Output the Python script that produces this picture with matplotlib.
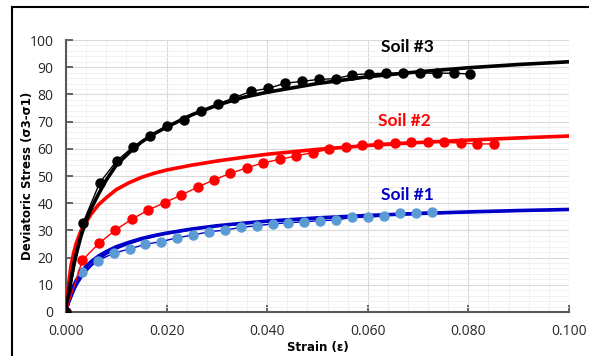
import numpy as np
import matplotlib.pyplot as plt
from matplotlib.lines import Line2D
from matplotlib.ticker import MultipleLocator, FormatStrFormatter

# =========================
# Measured points (strain, deviatoric stress)
# =========================

soil1_step = 0.00316
soil1_stress = [0, 14.8, 18.9, 21.6, 23.2, 24.9, 25.9, 27.3, 28.3, 29.5, 30.1, 31.1,
                31.7, 32.4, 32.8, 33.2, 33.6, 33.8, 34.8, 34.8, 35.3, 36.3, 36.5, 36.8]

soil2_step = 0.00327
soil2_stress = [0, 19.1, 25.2, 30.1, 34.1, 37.5, 40.2, 43.0, 45.9, 48.6, 51.0, 53.0,
                54.9, 56.1, 57.4, 58.6, 59.8, 60.8, 61.4, 61.9, 62.3, 62.5, 62.4,
                62.4, 62.1, 61.8, 61.8]

soil3_step = 0.00335
soil3_stress = [0, 32.6, 47.5, 55.5, 60.8, 64.7, 68.5, 70.6, 73.9, 76.5, 78.8, 81.2,
                82.2, 84.1, 84.8, 85.5, 85.8, 87.2, 87.6, 87.8, 87.8, 87.8, 87.8,
                87.8, 87.5]

# =========================
# Model curves
# =========================

fit_strain = [0, 0.0005, 0.001, 0.0015, 0.002, 0.003, 0.004, 0.005, 0.0065, 0.008,
              0.01, 0.0125, 0.015, 0.0175, 0.02, 0.025, 0.03, 0.035, 0.04, 0.05,
              0.06, 0.07, 0.08, 0.09, 0.1]
fit_soil1 = [0, 4.0, 7.0, 9.5, 11.5, 14.5, 16.8, 18.5, 20.6, 22.2, 24.0, 25.6, 27.0,
             28.1, 29.0, 30.5, 31.7, 32.6, 33.4, 34.6, 35.5, 36.2, 36.8, 37.3, 37.7]
fit_soil1_b = [0, 3.0, 5.5, 7.6, 9.5, 12.5, 15.0, 17.0, 19.4, 21.3, 23.3, 25.1, 26.6,
               27.8, 28.8, 30.4, 31.6, 32.5, 33.3, 34.5, 35.4, 36.1, 36.7, 37.2, 37.6]
fit_soil2 = [0, 10.0, 17.0, 21.5, 25.0, 30.0, 33.0, 36.0, 39.5, 42.0, 45.0, 47.5,
             49.5, 51.0, 52.2, 54.0, 55.5, 56.8, 58.0, 59.8, 61.2, 62.3, 63.2, 64.0, 64.7]
fit_soil3 = [0, 6.5, 12.0, 17.0, 21.0, 28.0, 33.5, 38.0, 43.5, 48.5, 54.0, 58.5,
             62.5, 65.5, 68.0, 72.5, 76.0, 78.8, 80.8, 84.0, 86.5, 88.3, 89.8, 91.0, 92.0]

soil_labels = ["Soil #1", "Soil #2", "Soil #3"]
label_pos = [(0.0678, 43), (0.0672, 70.2), (0.0678, 97.5)]

# =========================
# Plot
# =========================

fig = plt.figure(figsize=(5.89, 3.56), dpi=100)
ax = fig.add_axes([0.112, 0.1236, 0.854, 0.764])

blue, red, black = "#0000c8", "#ff0000", "#000000"

# model curves (thick)
ax.plot(fit_strain, fit_soil1_b, color=blue, lw=1.6, zorder=3)
ax.plot(fit_strain, fit_soil1, color=blue, lw=2.6, zorder=3)
ax.plot(fit_strain, fit_soil2, color=red, lw=2.6, zorder=3)
ax.plot(fit_strain, fit_soil3, color=black, lw=2.6, zorder=3)

# measured points
x1 = np.arange(len(soil1_stress)) * soil1_step
x2 = np.arange(len(soil2_stress)) * soil2_step
x3 = np.arange(len(soil3_stress)) * soil3_step

ax.plot(x1, soil1_stress, color=blue, lw=1.0, marker="o", ms=6.5,
        mfc="#5b9bd5", mec="#5b9bd5", zorder=4)
ax.plot(x2, soil2_stress, color=red, lw=1.0, marker="o", ms=6.5,
        mfc=red, mec=red, zorder=4)
ax.plot(x3, soil3_stress, color=black, lw=1.0, marker="o", ms=6.5,
        mfc=black, mec=black, zorder=4)

for lab, (lx, ly), c in zip(soil_labels, label_pos, [blue, red, black]):
    ax.text(lx, ly, lab, color=c, fontsize=12.5, fontweight="bold",
            family="Lato", ha="center", va="center")

ax.set_xlim(0, 0.1)
ax.set_ylim(0, 100)
ax.xaxis.set_major_locator(MultipleLocator(0.02))
ax.xaxis.set_minor_locator(MultipleLocator(0.004))
ax.yaxis.set_major_locator(MultipleLocator(10))
ax.yaxis.set_minor_locator(MultipleLocator(2))
ax.xaxis.set_major_formatter(FormatStrFormatter("%.3f"))

ax.grid(which="major", color="#d9d9d9", lw=0.8)
ax.grid(which="minor", color="#efefef", lw=0.6)
ax.set_axisbelow(True)

for s in ["top", "right"]:
    ax.spines[s].set_visible(False)
for s in ["left", "bottom"]:
    ax.spines[s].set_color("#595959")
    ax.spines[s].set_linewidth(1.5)

ax.tick_params(which="major", direction="in", length=5, width=1.3,
               color="#595959", labelsize=10, pad=9)
ax.tick_params(which="minor", length=0)
for t in ax.get_xticklabels() + ax.get_yticklabels():
    t.set_family("Open Sans")
    t.set_color("#262626")

ax.set_xlabel("Strain (ε)", fontsize=8.5, fontweight="bold", labelpad=1)
ax.set_ylabel("Deviatoric Stress (σ3-σ1)", fontsize=8.5, fontweight="bold")
ax.yaxis.set_label_coords(-0.064, 0.5)

# outer frame
fig.add_artist(Line2D([12 / 589, 12 / 589], [0, 1 - 7 / 356], color="black", lw=1.5))
fig.add_artist(Line2D([12 / 589, 1], [1 - 7 / 356, 1 - 7 / 356], color="black", lw=1.5))

fig.savefig("out.png", dpi=100)
